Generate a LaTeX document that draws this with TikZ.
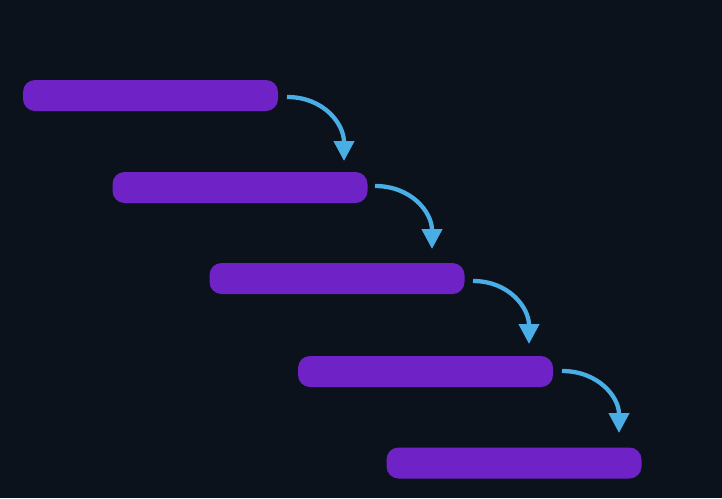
\documentclass[tikz,border=0pt]{standalone}
\usetikzlibrary{arrows.meta}
\definecolor{bgc}{HTML}{0B121C}
\definecolor{barc}{HTML}{6F23C6}
\definecolor{arrc}{HTML}{4AAEE6}
\begin{document}
\begin{tikzpicture}[x=1pt,y=-1pt,
  bar/.style={fill=barc,draw=none,rounded corners=12pt,minimum width=255pt,minimum height=31pt,inner sep=0pt},
  arr/.style={draw=arrc,line width=4.3pt,-{Triangle[width=20pt,length=20pt]}}]
\fill[bgc] (0,0) rectangle (722,498);
\useasboundingbox (0,0) rectangle (722,498);
\node[bar] (b1) at (150.5,95.5) {};
\node[bar] (b2) at (240,187.5) {};
\node[bar] (b3) at (337,278.5) {};
\node[bar] (b4) at (425.5,371.5) {};
\node[bar] (b5) at (514,463) {};
\coordinate (s1) at (287,97);  \coordinate (e1) at (344,161);
\coordinate (s2) at (375,186); \coordinate (e2) at (432,249);
\coordinate (s3) at (473,281); \coordinate (e3) at (529,344);
\coordinate (s4) at (562,371); \coordinate (e4) at (619,433);
\draw[arr] (s1) to[out=0,in=90,looseness=1.1] (e1);
\draw[arr] (s2) to[out=0,in=90,looseness=1.1] (e2);
\draw[arr] (s3) to[out=0,in=90,looseness=1.1] (e3);
\draw[arr] (s4) to[out=0,in=90,looseness=1.1] (e4);
\end{tikzpicture}
\end{document}
